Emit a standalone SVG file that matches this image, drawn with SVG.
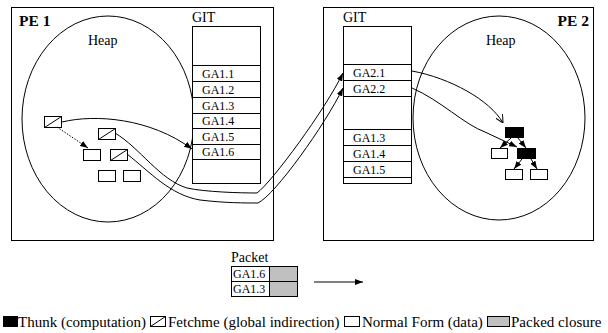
<svg xmlns="http://www.w3.org/2000/svg" width="608" height="333" viewBox="0 0 608 333">
  <style>
    .frame { fill: #fff; stroke: #000; stroke-width: 1; }
    .heap { fill: none; stroke: #000; stroke-width: 1; }
    .row { fill: none; stroke: #000; stroke-width: 1; }
    .t { font-family: "Liberation Serif", "Times New Roman", serif; fill: #000; }
    .lbl { font-size: 14px; }
    .ga { font-size: 12px; }
    .pe { font-size: 15.5px; font-weight: bold; }
    .leg { font-size: 15px; }
    .thunk { fill: #000; stroke: #000; stroke-width: 1; }
    .nf { fill: #fff; stroke: #000; stroke-width: 1; }
    .packed { fill: #c0c0c0; stroke: #000; stroke-width: 1; }
    .link { fill: none; stroke: #000; stroke-width: 1; }
  </style>
  <defs>
    <marker id="arr" viewBox="0 0 8 6" refX="8" refY="3" markerWidth="8" markerHeight="6" markerUnits="userSpaceOnUse" orient="auto">
      <path d="M0,0 L8,3 L0,6 Z" fill="#000"/>
    </marker>
    <marker id="open" viewBox="0 0 8 8" refX="8" refY="4" markerWidth="8" markerHeight="8" markerUnits="userSpaceOnUse" orient="auto">
      <path d="M0,0 L8,4 L0,8" fill="none" stroke="#000" stroke-width="1"/>
    </marker>
    <g id="fetchme">
      <rect x="0" y="0" width="17" height="11" class="nf"/>
      <line x1="0" y1="11" x2="17" y2="0" stroke="#000" stroke-width="1"/>
    </g>
  </defs>

  <!-- processing element 1 -->
  <g id="pe1">
    <rect x="11.5" y="7.5" width="262" height="233" class="frame"/>
    <text x="19" y="26" class="t pe">PE 1</text>
    <ellipse cx="108" cy="119" rx="86" ry="103" class="heap"/>
    <text x="88" y="45" class="t lbl">Heap</text>
  </g>
  <g id="git1">
    <text x="192" y="22" class="t lbl">GIT</text>
    <rect x="192.5" y="26.5" width="68" height="157" class="frame"/>
    <path class="row" d="M192.5,65.5 H260.5 M192.5,81.5 H260.5 M192.5,97.5 H260.5 M192.5,113.5 H260.5 M192.5,128.5 H260.5 M192.5,144.5 H260.5 M192.5,159.5 H260.5"/>
    <text x="202" y="77.5" class="t ga">GA1.1</text>
    <text x="202" y="93.5" class="t ga">GA1.2</text>
    <text x="202" y="109.5" class="t ga">GA1.3</text>
    <text x="202" y="125" class="t ga">GA1.4</text>
    <text x="202" y="140.5" class="t ga">GA1.5</text>
    <text x="202" y="156" class="t ga">GA1.6</text>
  </g>
  <g id="heap1-cells">
    <use href="#fetchme" x="44.5" y="116.5"/>
    <use href="#fetchme" x="98.5" y="128.5"/>
    <rect x="83.5" y="149.5" width="17" height="11" class="nf"/>
    <use href="#fetchme" x="110.5" y="149.5"/>
    <rect x="98.5" y="170.5" width="17" height="11" class="nf"/>
    <rect x="123.5" y="170.5" width="17" height="11" class="nf"/>
  </g>

  <!-- processing element 2 -->
  <g id="pe2">
    <rect x="323.5" y="7.5" width="270" height="233" class="frame"/>
    <text x="589" y="26" class="t pe" text-anchor="end">PE 2</text>
    <ellipse cx="499" cy="118" rx="86" ry="102" class="heap"/>
    <text x="486" y="45" class="t lbl">Heap</text>
  </g>
  <g id="git2">
    <text x="343" y="22" class="t lbl">GIT</text>
    <rect x="343.5" y="26.5" width="68" height="157" class="frame"/>
    <path class="row" d="M343.5,64.5 H411.5 M343.5,80.5 H411.5 M343.5,96.5 H411.5 M343.5,129.5 H411.5 M343.5,145.5 H411.5 M343.5,161.5 H411.5 M343.5,177.5 H411.5"/>
    <text x="353" y="76.5" class="t ga">GA2.1</text>
    <text x="353" y="92.5" class="t ga">GA2.2</text>
    <text x="353" y="141.5" class="t ga">GA1.3</text>
    <text x="353" y="157.5" class="t ga">GA1.4</text>
    <text x="353" y="173.5" class="t ga">GA1.5</text>
  </g>
  <g id="heap2-cells">
    <rect x="505.5" y="127.5" width="18" height="10" class="thunk"/>
    <rect x="491.5" y="148.5" width="16" height="10" class="nf"/>
    <rect x="517.5" y="148.5" width="18" height="10" class="thunk"/>
    <rect x="505.5" y="169.5" width="17" height="10" class="nf"/>
    <rect x="530.5" y="169.5" width="17" height="10" class="nf"/>
  </g>

  <!-- packet in transit -->
  <g id="packet">
    <text x="231" y="262" class="t lbl">Packet</text>
    <rect x="231.5" y="266.5" width="66" height="30" class="frame"/>
    <rect x="269.5" y="266.5" width="28" height="30" class="packed"/>
    <line x1="231.5" y1="281.5" x2="297.5" y2="281.5" stroke="#000" stroke-width="1"/>
    <text x="233" y="278" class="t ga">GA1.6</text>
    <text x="233" y="293" class="t ga">GA1.3</text>
  </g>

  <g id="connectors">
    <!-- local pointers in PE 1 -->
    <path class="link" d="M62,122 C95,114 150,118 192,149" marker-end="url(#arr)"/>
    <path class="link" d="M57,127 L88,148" stroke-dasharray="1.5,1.5" stroke="#555" marker-end="url(#arr)"/>
    <!-- fetchme references into the GIT of PE 2 -->
    <path class="link" d="M115,133 C140,148 160,180 187,188 C205,192 240,193 257,193 C272,182 325,110 343,73" marker-end="url(#arr)"/>
    <path class="link" d="M127,154 C150,172 170,195 200,200 C225,203 245,203 258,203 C275,195 325,125 343,88" marker-end="url(#arr)"/>
    <!-- GIT of PE 2 into its heap -->
    <path class="link" d="M412,71 C450,78 490,100 503,123" marker-end="url(#open)"/>
    <path class="link" d="M412,88 C440,100 465,125 485,132 L517,147" marker-end="url(#arr)"/>
    <!-- graph edges in PE 2 -->
    <path class="link" d="M511,138 L500,148" marker-end="url(#arr)"/>
    <path class="link" d="M518,138 L526,148" marker-end="url(#arr)"/>
    <path class="link" d="M522,159 L514,169" marker-end="url(#arr)"/>
    <path class="link" d="M531,159 L537,169" marker-end="url(#arr)"/>
    <!-- transfer direction -->
    <path class="link" d="M314,282 L363,282" marker-end="url(#arr)"/>
  </g>

  <!-- legend -->
  <g id="legend">
    <rect x="3.5" y="316.5" width="14" height="10" class="thunk"/>
    <text x="18" y="327" class="t leg">Thunk (computation)</text>
    <rect x="150.5" y="316.5" width="15" height="10" class="nf"/>
    <line x1="150.5" y1="326.5" x2="165.5" y2="316.5" stroke="#000" stroke-width="1"/>
    <text x="168" y="327" class="t leg">Fetchme (global indirection)</text>
    <rect x="344.5" y="316.5" width="15" height="10" class="nf"/>
    <text x="362" y="327" class="t leg">Normal Form (data)</text>
    <rect x="487.5" y="316.5" width="22" height="10" class="packed"/>
    <text x="511" y="327" class="t leg">Packed closure</text>
  </g>
</svg>
